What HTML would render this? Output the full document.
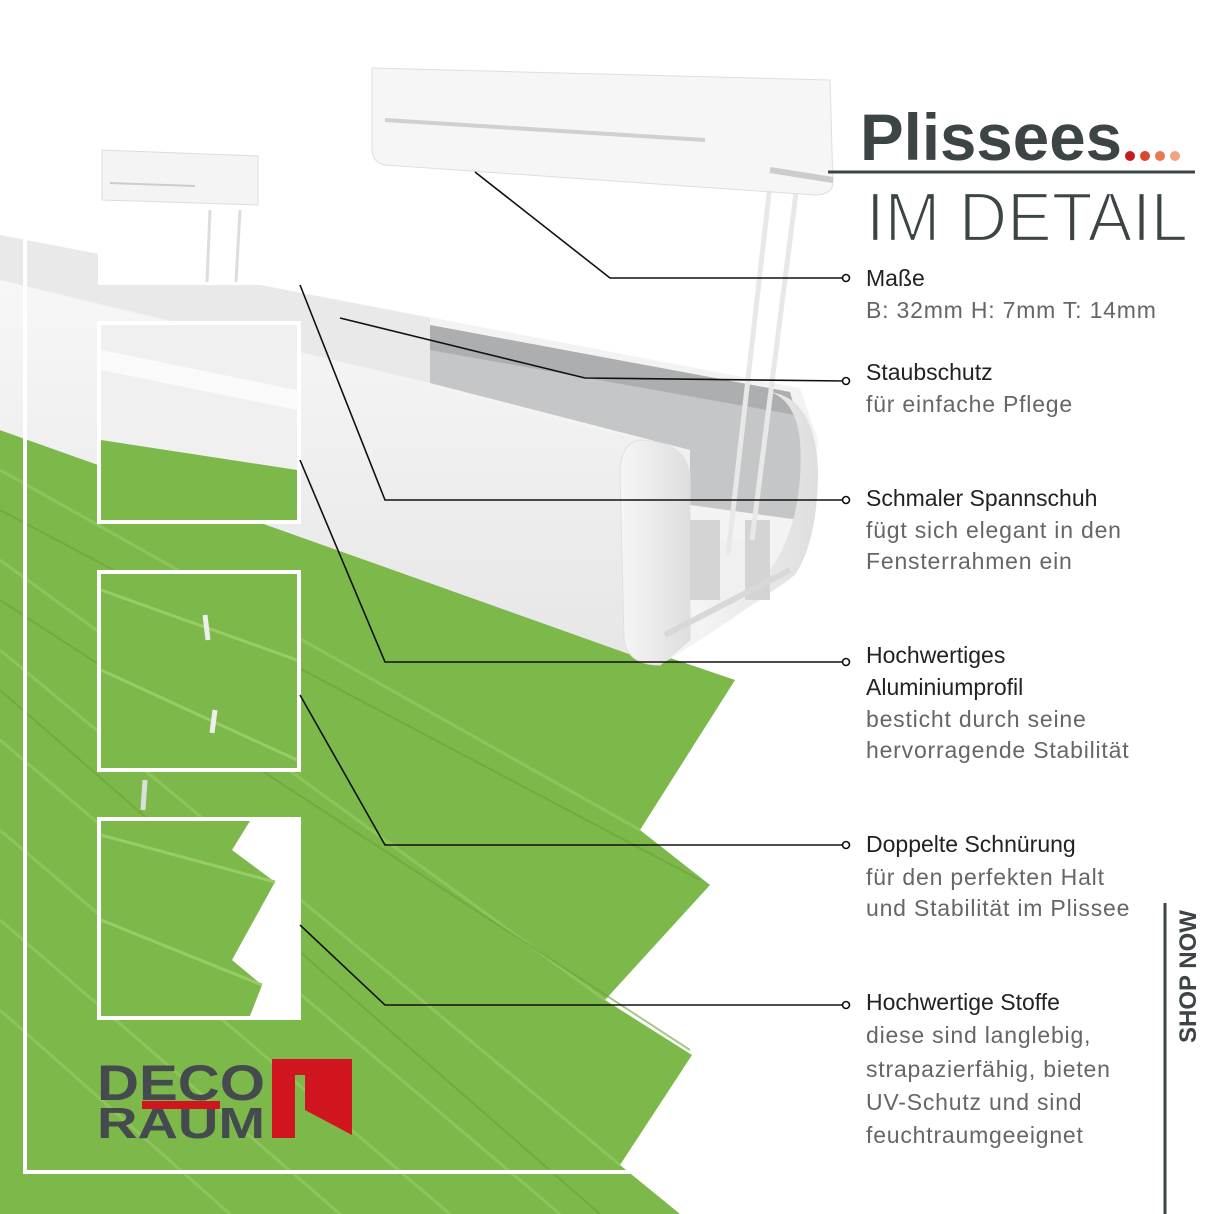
<!DOCTYPE html>
<html><head><meta charset="utf-8"><style>
html,body{margin:0;padding:0;background:#fff}
svg{display:block}
</style></head><body>
<svg width="1214" height="1214" viewBox="0 0 1214 1214" xmlns="http://www.w3.org/2000/svg" font-family="Liberation Sans, sans-serif">
<defs>
<linearGradient id="ff" x1="0" y1="0" x2="0" y2="1"><stop offset="0" stop-color="#f7f7f7"/><stop offset="1" stop-color="#e6e6e6"/></linearGradient>
<linearGradient id="cap" x1="0" y1="0" x2="1" y2="0"><stop offset="0" stop-color="#f6f6f6"/><stop offset="1" stop-color="#dedede"/></linearGradient>
</defs>
<rect width="1214" height="1214" fill="#fff"/>
<polygon points="0,430 735,680 640,830 710,885 605,1000 692,1055 620,1165 680,1214 0,1214" fill="#7db84a"/>
<g stroke="#93c861" stroke-width="3" opacity="0.8">
<line x1="0" y1="470" x2="640" y2="830"/><line x1="0" y1="560" x2="605" y2="1000"/><line x1="0" y1="650" x2="620" y2="1165"/>
<line x1="0" y1="740" x2="560" y2="1214"/><line x1="0" y1="830" x2="450" y2="1214"/><line x1="0" y1="920" x2="340" y2="1214"/><line x1="0" y1="1010" x2="230" y2="1214"/>
</g>
<g stroke="#6aa33a" stroke-width="2" opacity="0.6">
<line x1="0" y1="510" x2="700" y2="880"/><line x1="0" y1="600" x2="690" y2="1050"/><line x1="0" y1="690" x2="600" y2="1214"/>
</g>
<polygon points="0,235 800,388 818,440 812,520 790,580 700,640 660,665 0,430" fill="#f3f3f3"/>
<polygon points="0,235 430,318 430,383 0,280" fill="#e9e9e9"/>
<polygon points="430,325 790,392 805,440 800,520 690,505 690,450 430,383" fill="#c4c6c7"/>
<polygon points="430,325 790,392 795,415 430,350" fill="#acaeaf"/>
<polygon points="0,280 640,440 690,450 690,640 660,665 0,430" fill="url(#ff)"/>
<path d="M640,440 Q690,442 690,480 L690,640 L660,665 Q628,665 624,640 L620,470 Q622,442 640,440Z" fill="url(#cap)" stroke="#e0e0e0"/>
<path d="M770,392 Q815,398 818,470 Q818,540 795,575 L700,640 L690,600 L770,570 Q805,520 800,440 Q795,400 770,392Z" fill="url(#cap)"/>
<rect x="690" y="520" width="30" height="80" fill="#d4d4d4"/>
<rect x="745" y="520" width="25" height="80" fill="#d4d4d4"/>
<rect x="720" y="540" width="25" height="60" fill="#f0f0f0"/>
<path d="M665,635 L790,570" stroke="#d8d8d8" stroke-width="6"/>
<path d="M770,185 L728,555" stroke="#e8e8e8" stroke-width="5" fill="none"/>
<path d="M797,185 L752,540" stroke="#e8e8e8" stroke-width="5" fill="none"/>
<path d="M372,68 L830,80 L833,185 Q830,195 815,195 L385,165 Q373,163 372,150Z" fill="#f6f6f6" stroke="#dedede"/>
<path d="M770,170 L833,180" stroke="#ccc" stroke-width="6"/>
<path d="M385,120 L705,140" stroke="#d0d0d0" stroke-width="4"/>
<!-- outer frame: left + bottom -->
<polyline points="25,240 25,1172 630,1172" fill="none" stroke="#fff" stroke-width="4"/>
<line x1="300" y1="85" x2="300" y2="285" stroke="#fff" stroke-width="3"/>
<rect x="98" y="140" width="200" height="145" fill="#fff"/>
<path d="M102,150 L258,156 L258,205 L102,200Z" fill="#f4f4f4" stroke="#ddd"/>
<path d="M110,183 L195,186" stroke="#ccc" stroke-width="2"/>
<line x1="210" y1="210" x2="207" y2="282" stroke="#ddd" stroke-width="3"/>
<line x1="240" y1="210" x2="236" y2="282" stroke="#ddd" stroke-width="3"/>
<rect x="99" y="323" width="200" height="199" fill="#7db84a" stroke="#fff" stroke-width="4"/>
<polygon points="101,325 297,325 297,470 101,440" fill="#f0f0f0"/>
<polygon points="101,350 297,390 297,410 101,370" fill="#fafafa"/>
<rect x="99" y="572" width="200" height="198" fill="#7db84a" stroke="#fff" stroke-width="4"/>
<g stroke="#98cc66" stroke-width="3"><line x1="101" y1="590" x2="297" y2="660"/><line x1="101" y1="670" x2="297" y2="760"/></g>
<path d="M205,615 L208,640 M215,710 L212,733" stroke="#eee" stroke-width="5"/>
<path d="M145,780 L143,810" stroke="#ddd" stroke-width="5"/>
<rect x="99" y="819" width="200" height="199" fill="#fff" stroke="#fff" stroke-width="4"/>
<polygon points="101,821 250,821 232,850 275,882 232,960 262,985 250,1016 101,1016" fill="#7db84a"/>
<g stroke="#98cc66" stroke-width="3"><line x1="101" y1="835" x2="275" y2="882"/><line x1="101" y1="920" x2="262" y2="985"/></g>
<text x="97" y="1100" font-size="50" font-weight="bold" fill="#454a4f" textLength="168" lengthAdjust="spacingAndGlyphs">DECO</text>
<text x="97" y="1138" font-size="44" font-weight="bold" fill="#454a4f" textLength="168" lengthAdjust="spacingAndGlyphs">RAUM</text>
<rect x="142" y="1101" width="78" height="8" fill="#d0151f"/>
<path d="M272,1059 L352,1059 L352,1135 L305,1110 L305,1075 L295,1075 L295,1138 L272,1138Z" fill="#d0151f"/>
<g stroke="#111" stroke-width="1.6" fill="none">
<polyline points="475,172 610,278 846,278"/>
<polyline points="340,318 585,378 846,381"/>
<polyline points="300,285 385,500 846,500"/>
<polyline points="300,460 385,662 846,662"/>
<polyline points="300,695 385,845 846,845"/>
<polyline points="300,925 385,1005 846,1005"/>
</g>
<g fill="#fff" stroke="#111" stroke-width="1.6">
<circle cx="846" cy="278" r="3.5"/><circle cx="846" cy="381" r="3.5"/><circle cx="846" cy="500" r="3.5"/><circle cx="846" cy="662" r="3.5"/><circle cx="846" cy="845" r="3.5"/><circle cx="846" cy="1005" r="3.5"/>
</g>
<text x="860" y="160" font-size="66" font-weight="bold" fill="#3d4446" textLength="262" lengthAdjust="spacingAndGlyphs">Plissees</text>
<circle cx="1130" cy="156" r="5" fill="#c8191f"/><circle cx="1145" cy="156" r="5" fill="#d9472f"/><circle cx="1160" cy="156" r="5" fill="#e87752"/><circle cx="1175" cy="156" r="5" fill="#f0a47f"/>
<line x1="828" y1="172" x2="1195" y2="172" stroke="#3d4446" stroke-width="3"/>
<text x="866" y="241" font-size="70" fill="#3d4446" stroke="#fff" stroke-width="2.2" textLength="322" lengthAdjust="spacingAndGlyphs">IM DETAIL</text>
<g font-size="23" fill="#222">
<text x="866" y="286">Maße</text>
<text x="866" y="380">Staubschutz</text>
<text x="866" y="506">Schmaler Spannschuh</text>
<text x="866" y="663">Hochwertiges</text>
<text x="866" y="695">Aluminiumprofil</text>
<text x="866" y="852">Doppelte Schnürung</text>
<text x="866" y="1010">Hochwertige Stoffe</text>
</g>
<g font-size="23" fill="#666" letter-spacing="0.8">
<text x="866" y="318">B: 32mm H: 7mm T: 14mm</text>
<text x="866" y="412">für einfache Pflege</text>
<text x="866" y="538">fügt sich elegant in den</text>
<text x="866" y="569">Fensterrahmen ein</text>
<text x="866" y="727">besticht durch seine</text>
<text x="866" y="758">hervorragende Stabilität</text>
<text x="866" y="885">für den perfekten Halt</text>
<text x="866" y="916">und Stabilität im Plissee</text>
<text x="866" y="1043">diese sind langlebig,</text>
<text x="866" y="1077">strapazierfähig, bieten</text>
<text x="866" y="1110">UV-Schutz und sind</text>
<text x="866" y="1143">feuchtraumgeeignet</text>
</g>
<line x1="1165" y1="903" x2="1165" y2="1214" stroke="#3d4446" stroke-width="3"/>
<text transform="translate(1196,1043) rotate(-90)" font-size="24" font-weight="bold" fill="#3d4446">SHOP NOW</text>
</svg>
</body></html>
